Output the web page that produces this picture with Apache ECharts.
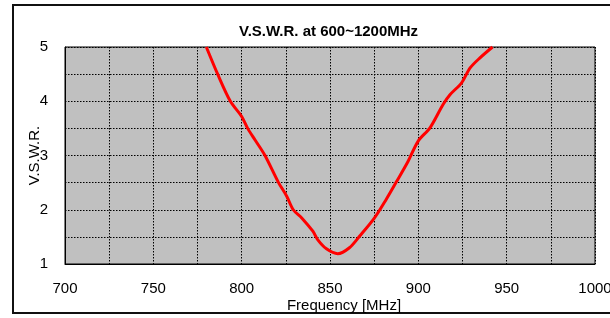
<!DOCTYPE html>
<html>
<head>
<meta charset="utf-8">
<script src="https://cdn.jsdelivr.net/npm/echarts@6/dist/echarts.min.js"></script>
<style>
  html, body { margin: 0; padding: 0; background: #fff; }
  #vswr { width: 610px; height: 318px; }
</style>
</head>
<body>
<div id="vswr"></div>
<script>
let freqs = [780, 786.4, 793.6, 800, 803.4, 807.5, 813.2, 820.7, 825.5, 829.2, 834, 840.4, 843, 848, 854.4, 861, 866.7, 875, 881.8, 887.5, 894, 900, 906.6, 914, 917.9, 924.5, 929.2, 934.9, 942];
let vswr  = [5.0, 4.5, 4.0, 3.72, 3.5, 3.29, 3.0, 2.51, 2.25, 2.0, 1.85, 1.6, 1.45, 1.28, 1.19, 1.30, 1.51, 1.84, 2.19, 2.51, 2.88, 3.27, 3.51, 3.94, 4.12, 4.34, 4.61, 4.80, 5.0];
let xTicks = [700, 1000, 50];
let yTicks = [1, 5, 1];

let font = 'Liberation Sans, Arial, sans-serif';
let dotted = { show: true, lineStyle: { color: '#000', type: [1.5, 1.5], width: 1 } };

function pts(){
  var res = [];
  for(let i=0; i<freqs.length; i++){
    res.push([freqs[i], vswr[i]]);
  }
  return res;
}

const option = {
  animation: false,
  title: {
    text: 'V.S.W.R. at 600~1200MHz',
    left: 239,
    top: 24,
    padding: 0,
    textStyle: { fontFamily: font, fontSize: 15, fontWeight: 'bold', color: '#000' }
  },
  grid: {
    left: 65, right: 15, top: 47, bottom: 54,
    outerBoundsMode: 'none',
    show: true,
    backgroundColor: '#c0c0c0',
    borderColor: '#000',
    borderWidth: 1
  },
  xAxis: {
    type: 'value',
    min: xTicks[0], max: xTicks[1], interval: xTicks[2],
    name: 'Frequency [MHz]',
    nameLocation: 'middle',
    nameGap: 34,
    nameMoveOverlap: false,
    nameTextStyle: { fontFamily: font, fontSize: 15, color: '#000', padding: [0, 0, 0, 28] },
    axisLine: { show: true, lineStyle: { color: '#000' } },
    axisTick: { show: false },
    axisLabel: { margin: 17, fontFamily: font, fontSize: 15, color: '#000', formatter: function(v){ return String(v); } },
    splitLine: dotted,
    minorTick: { show: false, splitNumber: 2 },
    minorSplitLine: dotted
  },
  yAxis: {
    type: 'value',
    min: yTicks[0], max: yTicks[1], interval: yTicks[2],
    name: 'V.S.W.R.',
    nameLocation: 'middle',
    nameGap: 23,
    nameMoveOverlap: false,
    nameTextStyle: { fontFamily: font, fontSize: 15, color: '#000' },
    axisLine: { show: true, lineStyle: { color: '#000' } },
    axisTick: { show: false },
    axisLabel: { margin: 17, fontFamily: font, fontSize: 15, color: '#000' },
    splitLine: dotted,
    minorTick: { show: false, splitNumber: 2 },
    minorSplitLine: dotted
  },
  graphic: [{
    type: 'rect',
    shape: { x: 13, y: 5, width: 620, height: 308 },
    style: { fill: 'none', stroke: '#111', lineWidth: 2 },
    silent: true
  }],
  series: [{
    type: 'line',
    data: pts(),
    smooth: 0.3,
    showSymbol: false,
    clip: true,
    lineStyle: { color: '#ff0000', width: 3 }
  }]
};

var myChart = echarts.init(document.getElementById('vswr'));
myChart.setOption(option);
</script>
</body>
</html>
